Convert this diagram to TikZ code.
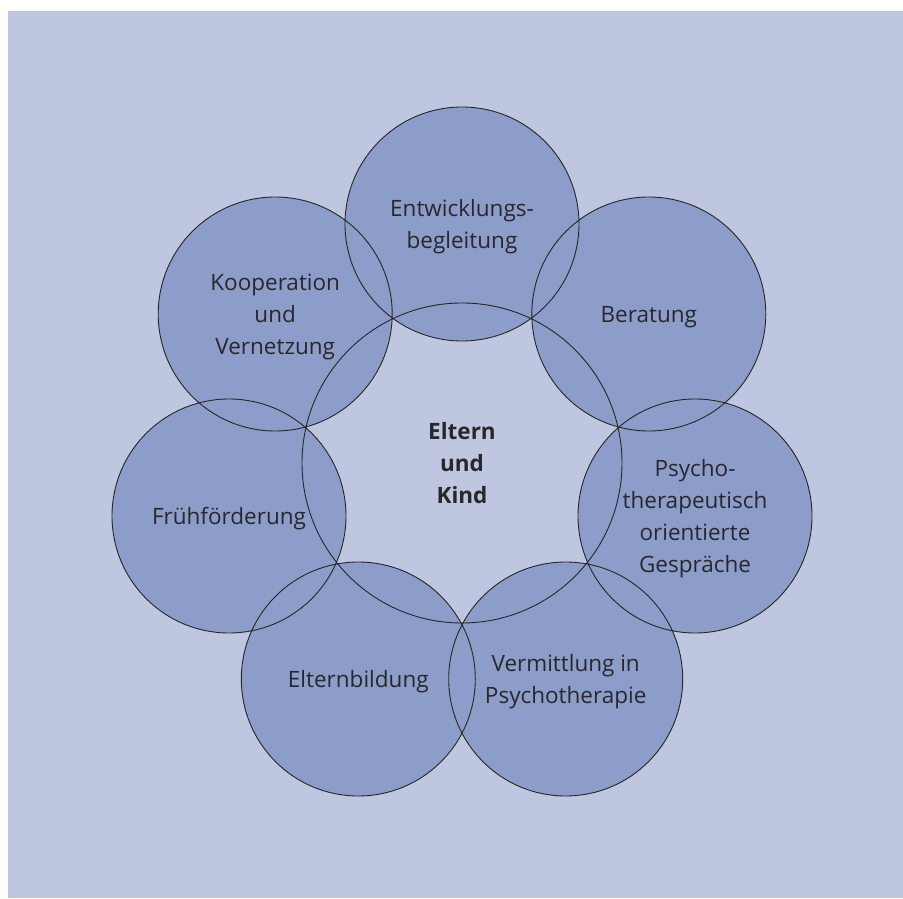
\documentclass[tikz,border=0pt]{standalone}
\usepackage{fontspec}
\setmainfont{Open Sans}
\usepackage{tikz}

\definecolor{backblue}{RGB}{191,198,224}
\definecolor{ringblue}{RGB}{141,157,201}
\definecolor{textgrey}{RGB}{40,40,44}

\tikzset{
  field/.style={circle,fill=ringblue,minimum size=234pt,inner sep=0pt,align=center,
    text depth=0pt,text=textgrey,font=\fontsize{22.5}{32}\selectfont},
  rim/.style={draw=black!85,line width=0.9pt}
}

\begin{document}
\begin{tikzpicture}[x=1pt,y=1pt]
    \useasboundingbox (0,0) rectangle (903,898);
    \fill[white] (0,0) rectangle (903,898);
    \fill[backblue] (8,0) rectangle (903,887);
    % outer fields
    \node at (462,674) [field] (entw) {Entwicklungs-\\begleitung};
    \node at (648.8,584) [field] (berat) {Beratung};
    \node at (695,382) [field] (psych) {Psycho-\\therapeutisch\\orientierte\\Gespräche};
    \node at (565.7,219) [field] (verm) {Vermittlung in\\Psychotherapie};
    \node at (358.3,219) [field] (elt) {Elternbildung};
    \node at (229,382) [field] (frueh) {Frühförderung};
    \node at (275.2,584) [field] (koop) {Kooperation\\und\\Vernetzung};
    % rims on top
    \draw[rim] (entw) circle[radius=117pt] (berat) circle[radius=117pt]
      (psych) circle[radius=117pt] (verm) circle[radius=117pt]
      (elt) circle[radius=117pt] (frueh) circle[radius=117pt]
      (koop) circle[radius=117pt];
    \node at (462,435) [circle,rim,minimum size=320pt,align=center,text=textgrey,
      font=\fontsize{22.5}{32}\selectfont\bfseries] (kern) {\raisebox{6pt}{Eltern}\\[-6pt]und\\Kind};
\end{tikzpicture}
\end{document}
